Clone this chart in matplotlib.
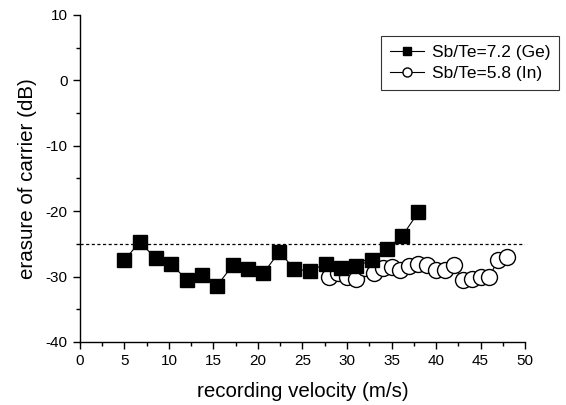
import matplotlib
matplotlib.use("Agg")
import matplotlib.pyplot as plt
from matplotlib.ticker import MultipleLocator
from matplotlib.lines import Line2D

plt.rcParams['font.family'] = ['Liberation Sans', 'DejaVu Sans']
plt.rcParams['axes.unicode_minus'] = False

# Sb/Te=7.2 (Ge) series
ge_v = [5.0, 6.7, 8.5, 10.2, 12.0, 13.7, 15.4, 17.2, 18.9, 20.6,
        22.4, 24.1, 25.8, 27.6, 29.3, 31.0, 32.8, 34.5, 36.2, 38.0]
ge_db = [-27.5, -24.7, -27.2, -28.0, -30.5, -29.8, -31.4, -28.2, -28.9, -29.5,
         -26.2, -28.9, -29.1, -28.1, -28.7, -28.4, -27.5, -25.8, -23.8, -20.2]

# Sb/Te=5.8 (In) series
in_v = [28, 29, 30, 31, 32, 33, 34, 35, 36, 37, 38,
        39, 40, 41, 42, 43, 44, 45, 46, 47, 48]
in_db = [-30.0, -29.4, -30.1, -30.3, -28.7, -29.5, -28.7, -28.6, -29.0, -28.4, -28.1,
         -28.2, -29.0, -29.0, -28.2, -30.5, -30.3, -30.1, -30.0, -27.4, -27.0]

threshold = -25

W, H = 566, 405
fig = plt.figure(figsize=(W / 100, H / 100), dpi=100)
ax = fig.add_axes([0.1413, 0.1556, 0.7863, 0.8074])

ax.plot([0, 50], [threshold, threshold], color="black", lw=0.9,
        linestyle=(0, (2.5, 2)), zorder=1)
ax.plot(ge_v, ge_db, color="black", lw=0.8, marker="s", ms=10.5,
        mfc="black", mec="black", zorder=3)
ax.plot(in_v, in_db, color="black", lw=0.8, marker="o", ms=11.5,
        mfc="white", mec="black", mew=1.0, zorder=2)

ax.set_xlim(0, 50)
ax.set_ylim(-40, 10)
ax.xaxis.set_major_locator(MultipleLocator(5))
ax.xaxis.set_minor_locator(MultipleLocator(2.5))
ax.yaxis.set_major_locator(MultipleLocator(10))
ax.yaxis.set_minor_locator(MultipleLocator(5))
ax.tick_params(which="major", length=5, width=1, labelsize=11, direction="out", pad=4)
ax.tick_params(which="minor", length=3, width=1, direction="out")

for s in ["top", "right"]:
    ax.spines[s].set_visible(False)
for s in ["left", "bottom"]:
    ax.spines[s].set_linewidth(1)

ax.set_xlabel("recording velocity (m/s)", fontsize=14.8, labelpad=10)
ax.set_ylabel("erasure of carrier (dB)", fontsize=14.8, labelpad=6)

handles = [
    Line2D([], [], color="black", lw=0.8, marker="s", ms=6, mfc="black"),
    Line2D([], [], color="black", lw=0.8, marker="o", ms=6.5, mfc="white"),
]
leg = fig.legend(handles, ["Sb/Te=7.2 (Ge)", "Sb/Te=5.8 (In)"],
                 loc="upper left", bbox_to_anchor=(381 / W, 1 - 36 / H),
                 fontsize=12.5, frameon=True, fancybox=False, edgecolor="black",
                 handlelength=2.0, handletextpad=0.45, borderpad=0.5,
                 labelspacing=0.35, borderaxespad=0.0)
leg.get_frame().set_linewidth(0.8)

fig.savefig("out.png", dpi=100)
